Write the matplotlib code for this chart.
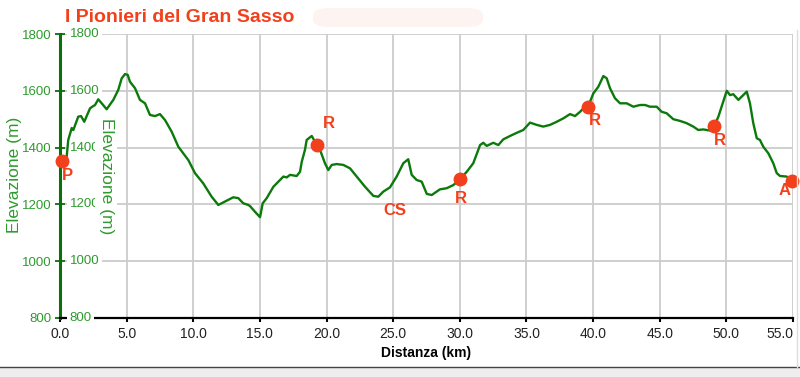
import matplotlib.pyplot as plt
from matplotlib.patches import FancyBboxPatch, Rectangle
from matplotlib.lines import Line2D

# elevation profile (km, m)
dist_km = [0.13, 0.50, 0.62, 0.88, 1.00, 1.37, 1.58, 1.82, 2.25, 2.42, 2.63, 2.87, 3.13, 3.50,
           4.00, 4.37, 4.63, 4.88, 5.08, 5.25, 5.63, 6.00, 6.38, 6.75, 7.13, 7.50, 7.88, 8.38,
           8.88, 9.63, 10.13, 10.75, 11.38, 11.88, 12.38, 13.00, 13.38, 13.75, 14.13, 14.26,
           14.63, 15.01, 15.21, 15.51, 16.01, 16.38, 16.76, 17.01, 17.26, 17.76, 18.01, 18.14,
           18.38, 18.51, 18.89, 19.13, 19.30, 19.51, 19.88, 20.13, 20.39, 20.76, 21.26, 21.76,
           22.26, 22.89, 23.51, 23.88, 24.26, 24.76, 25.26, 25.76, 26.13, 26.39, 26.76, 27.14,
           27.52, 27.89, 28.51, 29.02, 29.51, 30.01, 30.52, 31.01, 31.52, 31.76, 32.02, 32.51,
           32.89, 33.26, 33.77, 34.27, 34.76, 35.27, 35.77, 36.26, 36.77, 37.27, 37.77, 38.27,
           38.64, 39.02, 39.27, 39.64, 40.02, 40.39, 40.77, 41.02, 41.27, 41.64, 42.02, 42.52,
           43.02, 43.52, 43.90, 44.27, 44.77, 45.15, 45.52, 46.02, 46.52, 47.02, 47.52, 47.89,
           48.27, 48.77, 49.07, 49.40, 49.77, 50.03, 50.27, 50.52, 50.90, 51.27, 51.53, 51.77,
           52.02, 52.28, 52.52, 52.77, 53.15, 53.52, 53.78, 54.03, 54.53, 54.90]
elev_m = [1353, 1368, 1427, 1469, 1462, 1509, 1511, 1491, 1538, 1544, 1550, 1570, 1556, 1535,
          1568, 1603, 1644, 1659, 1656, 1632, 1609, 1568, 1556, 1515, 1511, 1518, 1497, 1456,
          1403, 1356, 1310, 1274, 1227, 1198, 1210, 1225, 1222, 1204, 1198, 1194,
          1174, 1155, 1204, 1222, 1262, 1280, 1298, 1295, 1304, 1300, 1315, 1350,
          1392, 1427, 1441, 1421, 1409, 1392, 1345, 1321, 1339, 1342, 1339, 1327,
          1298, 1262, 1230, 1227, 1245, 1260, 1298, 1345, 1359, 1304, 1286, 1280,
          1237, 1233, 1253, 1257, 1268, 1288, 1315, 1345, 1409, 1417, 1406, 1417,
          1409, 1429, 1441, 1452, 1462, 1488, 1480, 1474, 1480, 1491, 1503, 1518,
          1511, 1526, 1538, 1546, 1591, 1614, 1652, 1644, 1609, 1574, 1556, 1556,
          1544, 1550, 1550, 1544, 1544, 1526, 1521, 1500, 1494, 1486, 1474, 1462,
          1464, 1460, 1474, 1509, 1562, 1600, 1585, 1588, 1568, 1585, 1597, 1556,
          1486, 1433, 1427, 1403, 1380, 1345, 1310, 1300, 1298, 1286]

# waypoints
wp_km = [0.13, 19.3, 30.01, 39.64, 49.07, 54.9]
wp_elev = [1353, 1409, 1288, 1544, 1476, 1283]
wp_labels = ['P', 'R', 'R', 'R', 'R', 'A']
wp_offsets = [(6, -15), (12, 22), (1, -19), (7, -14), (6, -14), (-7, -10)]
cs_km, cs_elev = 25.1, 1180

x_ticks = [0, 5, 10, 15, 20, 25, 30, 35, 40, 45, 50, 55]
y_ticks = [800, 1000, 1200, 1400, 1600, 1800]

green = '#0b7a0b'
lab_green = '#2e9b2e'
red = '#f2401c'

fig = plt.figure(figsize=(8, 3.77), dpi=100)
ax = fig.add_axes([60 / 800, 1 - 318 / 377, 733 / 800, 284 / 377])
ax.set_xlim(0, 55)
ax.set_ylim(800, 1800)

ax.set_axisbelow(True)
ax.grid(True, color='#cccccc', linewidth=1.3)
for s in ['top', 'right']:
    ax.spines[s].set_visible(False)
ax.spines['left'].set_color('#0a700a')
ax.spines['left'].set_linewidth(2.2)
ax.spines['bottom'].set_color('black')
ax.spines['bottom'].set_linewidth(1.6)

ax.set_xticks(x_ticks)
ax.set_xticklabels([f'{v:.1f}' for v in x_ticks],
                   fontfamily='Liberation Sans', fontsize=10, color='#222222')
ax.get_xticklabels()[-1].set_horizontalalignment('right')
ax.tick_params(axis='x', direction='out', length=3, width=1.5, pad=3.5, color='black')

ax.set_yticks(y_ticks)
ax.set_yticklabels([str(v) for v in y_ticks], fontsize=9.5, fontfamily='Liberation Sans',
                   color=lab_green)
ax.tick_params(axis='y', direction='inout', length=7, width=1.3, pad=2.5, color='#0a700a')

# inner copy of the elevation tick labels
for v in y_ticks:
    ax.annotate(str(v), xy=(0, v), xytext=(7, 0), textcoords='offset points',
                ha='left', va='center', fontsize=9.5, fontfamily='Liberation Sans',
                color=lab_green, zorder=3, annotation_clip=False,
                bbox=dict(boxstyle='square,pad=0.2', fc='white', ec='none'))

ax.plot(dist_km, elev_m, color=green, linewidth=1.7, zorder=4, clip_on=False)
ax.plot(wp_km, wp_elev, 'o', color=red, markersize=9, zorder=5, clip_on=False)
for xk, ye, lab, off in zip(wp_km, wp_elev, wp_labels, wp_offsets):
    ax.annotate(lab, xy=(xk, ye), xytext=off, textcoords='offset pixels',
                ha='center', va='center', fontsize=12, fontweight='bold',
                fontfamily='Liberation Sans', color=red, zorder=6, annotation_clip=False)
ax.text(cs_km, cs_elev, 'CS', ha='center', va='center', fontsize=12, fontweight='bold',
        fontfamily='Liberation Sans', color=red, zorder=6)

# axis titles
fig.text(15 / 800, 1 - 175 / 377, 'Elevazione (m)', rotation=90, ha='center', va='center',
         fontsize=12.5, fontfamily='Liberation Sans', color=lab_green)
fig.text(106 / 800, 1 - 176 / 377, 'Elevazione (m)', rotation=-90, ha='center', va='center',
         fontsize=12.5, fontfamily='Liberation Sans', color=lab_green, zorder=3,
         bbox=dict(boxstyle='square,pad=0.2', fc='white', ec='none'))
fig.text(426 / 800, 1 - 353 / 377, 'Distanza (km)', ha='center', va='center',
         fontsize=10, fontweight='bold', fontfamily='Liberation Sans', color='black')

# title and faint box next to it
fig.text(65 / 800, 1 - 17 / 377, 'I Pionieri del Gran Sasso', ha='left', va='center',
         fontsize=14, fontweight='bold', fontfamily='Liberation Sans', color=red)
fig.patches.append(FancyBboxPatch((313 / 800, 1 - 27 / 377), 170 / 800, 19 / 377,
                                  boxstyle='round,pad=0,rounding_size=0.02',
                                  transform=fig.transFigure, fc='#fdf4f2', ec='none'))

# window status bar at the bottom
fig.patches.append(Rectangle((0, 0), 1, 1 - 367 / 377, transform=fig.transFigure,
                             fc='#eeeeee', ec='none'))
fig.lines.append(Line2D([0, 1], [1 - 367 / 377] * 2, transform=fig.transFigure,
                        color='#444444', linewidth=1))
fig.lines.append(Line2D([797 / 800] * 2, [1 - 367 / 377, 1 - 30 / 377], transform=fig.transFigure,
                        color='#dddddd', linewidth=1))

fig.savefig('out.png', dpi=100)
